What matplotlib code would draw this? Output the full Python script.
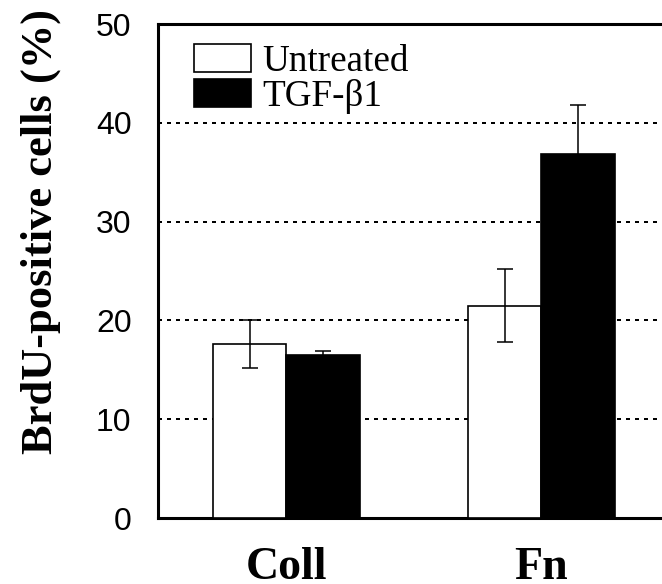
import matplotlib
matplotlib.use("Agg")
import matplotlib.pyplot as plt
import numpy as np

categories = ["Coll", "Fn"]
series_names = ["Untreated", "TGF-β1"]
untreated = [17.6, 21.5]
untreated_err = [2.45, 3.7]
tgf = [16.5, 36.8]
tgf_err = [0.4, 5.0]
yticks = [0, 10, 20, 30, 40, 50]

fig = plt.figure(figsize=(6.62, 5.84), dpi=100)
ax = fig.add_axes([158/662, 66/584, 1 - 158/662, 494/584])

x = np.arange(len(categories))
w = 0.288
err_kw = dict(ecolor="black", elinewidth=1.1, capsize=5.5, capthick=1.1)
ax.bar(x - w/2, untreated, w, yerr=untreated_err, color="white", edgecolor="black",
       linewidth=1.2, label=series_names[0], error_kw=err_kw, zorder=3)
ax.bar(x + w/2, tgf, w, yerr=tgf_err, color="black", edgecolor="black",
       linewidth=1.2, label=series_names[1], error_kw=err_kw, zorder=3)

ax.set_xlim(-0.504, 1.473)
ax.set_ylim(0, 50)
ax.set_yticks(yticks)
ax.set_yticklabels([str(t) for t in yticks], fontfamily="Liberation Sans", fontsize=23)
for t in yticks[1:-1]:
    ax.axhline(t, color="black", lw=1.44, ls=(0, (2, 2.5)), zorder=1)

for s in ["left", "top", "bottom"]:
    ax.spines[s].set_linewidth(2.2)
ax.spines["right"].set_visible(False)

ax.set_xticks(x)
ax.set_xticklabels(categories, fontfamily="Liberation Serif", fontweight="bold", fontsize=33)
ax.tick_params(axis="x", length=0, pad=21)
ax.tick_params(axis="y", length=0, pad=19)

fig.text(41/662, 1 - 231/584, "BrdU-positive cells (%)", rotation=90,
         ha="center", va="center", fontfamily="Liberation Serif",
         fontweight="bold", fontsize=32)

leg = ax.legend(loc="upper left", bbox_to_anchor=(36/504, 1 - 20/494), frameon=False,
                prop={"family": "Liberation Serif", "size": 26.7},
                handlelength=1.55, handleheight=0.8, handletextpad=0.3,
                labelspacing=0.0, borderpad=0, borderaxespad=0)

fig.savefig("out.png", dpi=100)
